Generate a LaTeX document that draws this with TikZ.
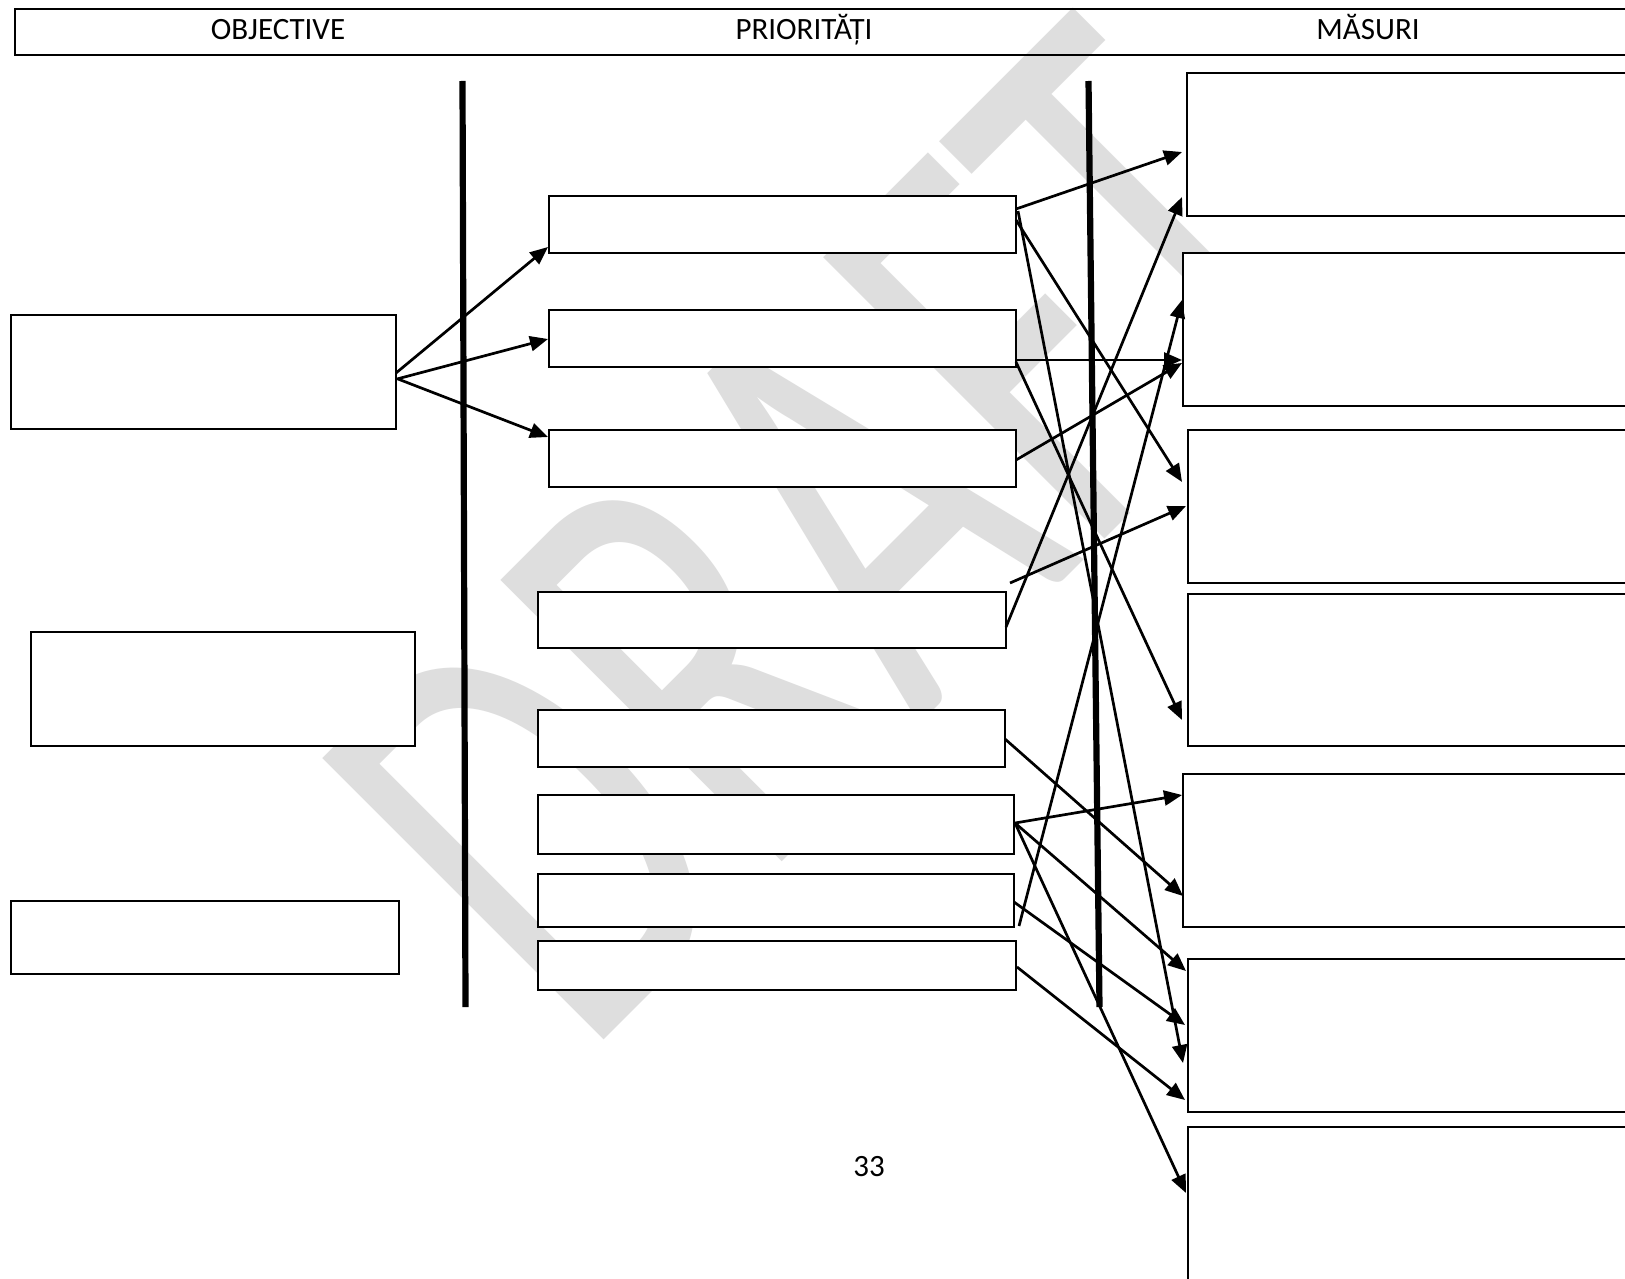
\documentclass[tikz,border=0pt]{standalone}
\usepackage{fontspec}
\setmainfont{Carlito}
\usetikzlibrary{arrows.meta,calc}
\definecolor{wmgray}{RGB}{222,222,222}
\tikzset{
 box/.style={draw=black, line width=1.05pt, fill=white, inner sep=0pt, outer sep=0pt, rectangle},
 conn/.style={line width=1.35pt, -{Triangle[length=9pt,width=7.5pt]}},
 divider/.style={line width=3.1pt},
 headtxt/.style={font=\fontsize{15.5pt}{18pt}\selectfont, inner sep=0pt, anchor=base},
 wmtext/.style={font=\fontsize{204pt}{204pt}\selectfont, text=wmgray, inner sep=0pt, anchor=base west, rotate=45, yscale=1.52}
}
\newcommand\mybox[5]{\node[box,minimum width={(#4-#2)*0.5pt},minimum height={(#5-#3)*0.5pt}] (#1) at ({(#2+#4)/2},{(#3+#5)/2}) {};}
\begin{document}
\begin{tikzpicture}[x=0.5pt,y=-0.5pt]
\useasboundingbox (0,0) rectangle (1625,1278);
\clip (0,0) rectangle (1625,1278);
\fill[white] (0,0) rectangle (1625,1278);
% watermark
\node[wmtext] (wm) at (584,1060) {DRAFT};
% header
\draw[line width=1pt] (14.5,9) rectangle (1640,55);
\node[headtxt] (h1) at (278,40) {OBJECTIVE};
\node[headtxt] (h2) at (804,40) {PRIORITĂȚI};
\node[headtxt] (h3) at (1368,40) {MĂSURI};
% dividers
\draw[divider] (462.5,81) -- (465.5,1007);
\draw[divider] (1088.5,81) -- (1099.5,1007);
% objective boxes
\mybox{O1}{11}{315}{396}{429}
\mybox{O2}{31}{632}{415}{746}
\mybox{O3}{11}{901}{399}{974}
% priority boxes
\mybox{P1}{549}{196}{1016}{253}
\mybox{P2}{549}{310}{1016}{367}
\mybox{P3}{549}{430}{1016}{487}
\mybox{P4}{538}{592}{1006}{648}
\mybox{P5}{538}{710}{1005}{767}
\mybox{P6}{538}{795}{1014}{854}
\mybox{P7}{538}{874}{1014}{927}
\mybox{P8}{538}{941}{1016}{990}
% measure boxes
\mybox{M1}{1187}{73}{1640}{216}
\mybox{M2}{1183}{253}{1640}{406}
\mybox{M3}{1188}{430}{1640}{583}
\mybox{M4}{1188}{594}{1640}{746}
\mybox{M5}{1183}{774}{1640}{927}
\mybox{M6}{1188}{959}{1640}{1112}
\mybox{M7}{1188}{1127}{1640}{1300}
\coordinate (f1) at (1010,583);
% connectors
\draw[conn] ($(O1.north east)+(0,58)$) -- ($(P1.south west)+(-1,-6)$);
\draw[conn] ($(O1.north east)+(1,64)$) -- ($(P2.north west)+(-1,29)$);
\draw[conn] ($(O1.north east)+(2,64)$) -- ($(P3.north west)+(-1,7)$);
\draw[conn] ($(P1.north east)+(0,13)$) -- ($(M1.north west)+(-5,79)$);
\draw[conn] ($(P1.north east)+(0,24)$) -- ($(M3.north west)+(-6,52)$);
\draw[conn] ($(P1.north east)+(2,15)$) -- ($(M6.north west)+(-5,104)$);
\draw[conn] ($(P2.north east)+(0,50)$) -- ($(M2.north west)+(-1,107)$);
\draw[conn] ($(P2.north east)+(0,52)$) -- ($(M4.north west)+(-6,126)$);
\draw[conn] ($(P3.north east)+(0,30)$) -- ($(M2.north west)+(-1,110)$);
\draw[conn] (f1) -- ($(M3.north west)+(-2,76)$);
\draw[conn] ($(P4.north east)+(0,35)$) -- ($(M1.north west)+(-5,124)$);
\draw[conn] ($(P5.north east)+(0,29)$) -- ($(M5.north west)+(0,122)$);
\draw[conn] ($(P6.north east)+(1,28)$) -- ($(M5.north west)+(-1,21)$);
\draw[conn] ($(P6.north east)+(1,28)$) -- ($(M6.north west)+(-2,12)$);
\draw[conn] ($(P6.north east)+(1,28)$) -- ($(M7.north west)+(-2,66)$);
\draw[conn] ($(P7.south east)+(5,-1)$) -- ($(M2.north west)+(-1,47)$);
\draw[conn] ($(P7.north east)+(0,28)$) -- ($(M6.north west)+(-3,66)$);
\draw[conn] ($(P8.north east)+(1,26)$) -- ($(M6.north west)+(-3,141)$);
% page number
\node[headtxt] (pg) at (869,1176) {33};
\end{tikzpicture}
\end{document}
